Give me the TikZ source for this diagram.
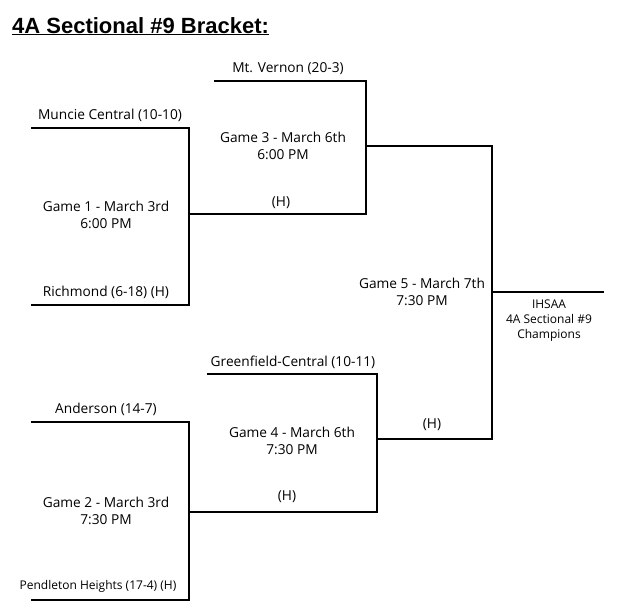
\documentclass[tikz,border=0pt]{standalone}
\usepackage{fontspec}
\setmainfont{Open Sans}
\newfontfamily\titlefont{Liberation Sans}
\begin{document}
\begin{tikzpicture}[x=1pt,y=-1pt,
    bracket/.style={line width=2.6pt,line cap=rect},
    lbl/.style={font=\fontsize{13.7}{17}\selectfont,align=center,inner sep=0pt},
    small/.style={font=\fontsize{12}{15}\selectfont}]
  \useasboundingbox (0,0) rectangle (633,613);
  \node[anchor=base west,inner sep=0pt,font=\titlefont\fontsize{22}{24}\selectfont\bfseries] (title) at (12,33) {\underline{4A Sectional \#9 Bracket:}};
  % round one
  \coordinate (m1) at (32,128);  \coordinate (m2) at (189,128);
  \coordinate (r1) at (32,305);  \coordinate (r2) at (189,305);
  \coordinate (g1) at (189,214); \coordinate (g1e) at (366,214);
  \coordinate (a1) at (32,422);  \coordinate (a2) at (189,422);
  \coordinate (p1) at (32,600);  \coordinate (p2) at (189,600);
  \coordinate (g2) at (189,512); \coordinate (g2e) at (377,512);
  % round two
  \coordinate (v1) at (215,81);  \coordinate (v2) at (366,81);
  \coordinate (g3) at (366,146); \coordinate (g3e) at (492,146);
  \coordinate (c1) at (208,374); \coordinate (c2) at (377,374);
  \coordinate (g4) at (377,439); \coordinate (g4e) at (492,439);
  % final
  \coordinate (g5) at (492,292); \coordinate (w) at (603,292);
  \draw[bracket] (m1) -- (m2) -- (r2) -- (r1);
  \draw[bracket] (g1) -- (g1e);
  \draw[bracket] (a1) -- (a2) -- (p2) -- (p1);
  \draw[bracket] (g2) -- (g2e);
  \draw[bracket] (v1) -- (v2) -- (g1e);
  \draw[bracket] (g3) -- (g3e);
  \draw[bracket] (c1) -- (c2) -- (g2e);
  \draw[bracket] (g4) -- (g4e);
  \draw[bracket] (g3e) -- (g4e);
  \draw[bracket] (g5) -- (w);
  % labels
  \node[lbl] (mv) at (288,69) {Mt. Vernon (20-3)};
  \node[lbl] (mc) at (110,115) {Muncie Central (10-10)};
  \node[lbl] (gm3) at (283,146) {Game 3 - March 6th\\6:00 PM};
  \node[lbl] (h1) at (281,203) {(H)};
  \node[lbl] (gm1) at (106,215) {Game 1 - March 3rd\\6:00 PM};
  \node[lbl] (ri) at (106,292) {Richmond (6-18) (H)};
  \node[lbl] (gm5) at (422,292) {Game 5 - March 7th\\7:30 PM};
  \node[lbl,small] (ch) at (549,321) {IHSAA\\4A Sectional \#9\\Champions};
  \node[lbl] (gc) at (293,362) {Greenfield-Central (10-11)};
  \node[lbl] (an) at (106,409) {Anderson (14-7)};
  \node[lbl] (gm4) at (292,441) {Game 4 - March 6th\\7:30 PM};
  \node[lbl] (h3) at (432,425) {(H)};
  \node[lbl] (h2) at (287,497) {(H)};
  \node[lbl] (gm2) at (106,511) {Game 2 - March 3rd\\7:30 PM};
  \node[lbl,small] (ph) at (98,586) {Pendleton Heights (17-4) (H)};
\end{tikzpicture}
\end{document}
